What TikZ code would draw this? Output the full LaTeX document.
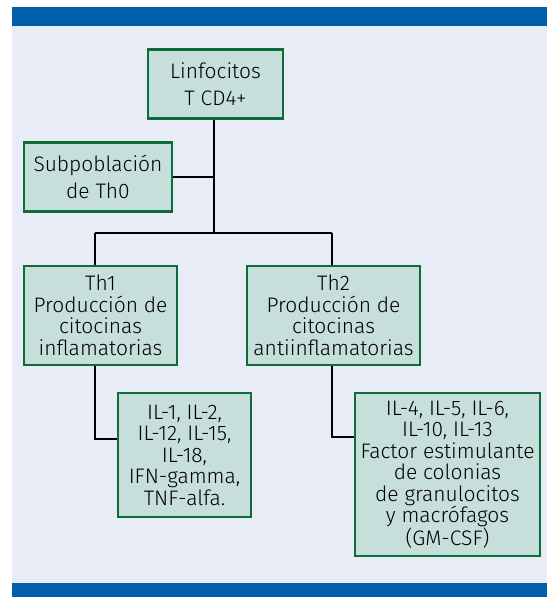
\documentclass[tikz,border=0pt]{standalone}
\usepackage{fontspec}
\setmainfont{Fira Sans}[UprightFont={* Light}]
\definecolor{bgc}{HTML}{E8ECF7}
\definecolor{barc}{HTML}{005EAA}
\definecolor{boxfill}{HTML}{C6DFDA}
\definecolor{boxline}{HTML}{0F6B38}
\begin{document}
\begin{tikzpicture}[x=1pt,y=-1pt,
  box/.style={draw=boxline,fill=boxfill,line width=2.6pt,align=center,inner sep=0pt,
    font=\fontsize{21}{21.5}\selectfont,text=black},
  conn/.style={draw=black,line width=1.8pt}]
\useasboundingbox (0,0) rectangle (547,597);
\fill[white] (0,0) rectangle (547,597);
\fill[bgc] (12,26) rectangle (547,583);
\fill[barc] (12,7) rectangle (547,26);
\fill[barc] (12,583) rectangle (547,597);
% boxes
\node[box,minimum width=135pt,minimum height=69pt] (lin) at (215.5,84) {Linfocitos\\[6pt]T CD4+};
\node[box,minimum width=148pt,minimum height=69pt] (sub) at (98,177) {Subpoblación\\[6pt]de Th0};
\node[box,minimum width=153pt,minimum height=99pt] (th1) at (100.5,315.5) {Th1\\Producción de\\citocinas\\inflamatorias};
\node[box,minimum width=173pt,minimum height=99pt] (th2) at (333.5,315.5) {Th2\\Producción de\\citocinas\\antiinflamatorias};
\node[box,minimum width=133pt,minimum height=124pt] (il1) at (184.5,455) {IL-1, IL-2,\\IL-12, IL-15,\\IL-18,\\IFN-gamma,\\TNF-alfa.};
\node[box,minimum width=185pt,minimum height=163pt] (il2) at (447.5,474.5) {IL-4, IL-5, IL-6,\\IL-10, IL-13\\Factor estimulante\\de colonias\\de granulocitos\\y macrófagos\\(GM-CSF)};
% junctions
\coordinate (jt) at (214,233);
\coordinate (jl) at (95,233);
\coordinate (jr) at (332,233);
\coordinate (js) at (214,177);
\coordinate (k1) at (95,439);
\coordinate (k2) at (332,437);
\draw[conn] (lin.south -| jt) -- (jt);
\draw[conn] (sub.east |- js) -- (js);
\draw[conn] (jl) -- (jr);
\draw[conn] (jl) -- (th1.north -| jl);
\draw[conn] (jr) -- (th2.north -| jr);
\draw[conn] (th1.south -| k1) -- (k1) -- (il1.west |- k1);
\draw[conn] (th2.south -| k2) -- (k2) -- (il2.west |- k2);
\end{tikzpicture}
\end{document}
